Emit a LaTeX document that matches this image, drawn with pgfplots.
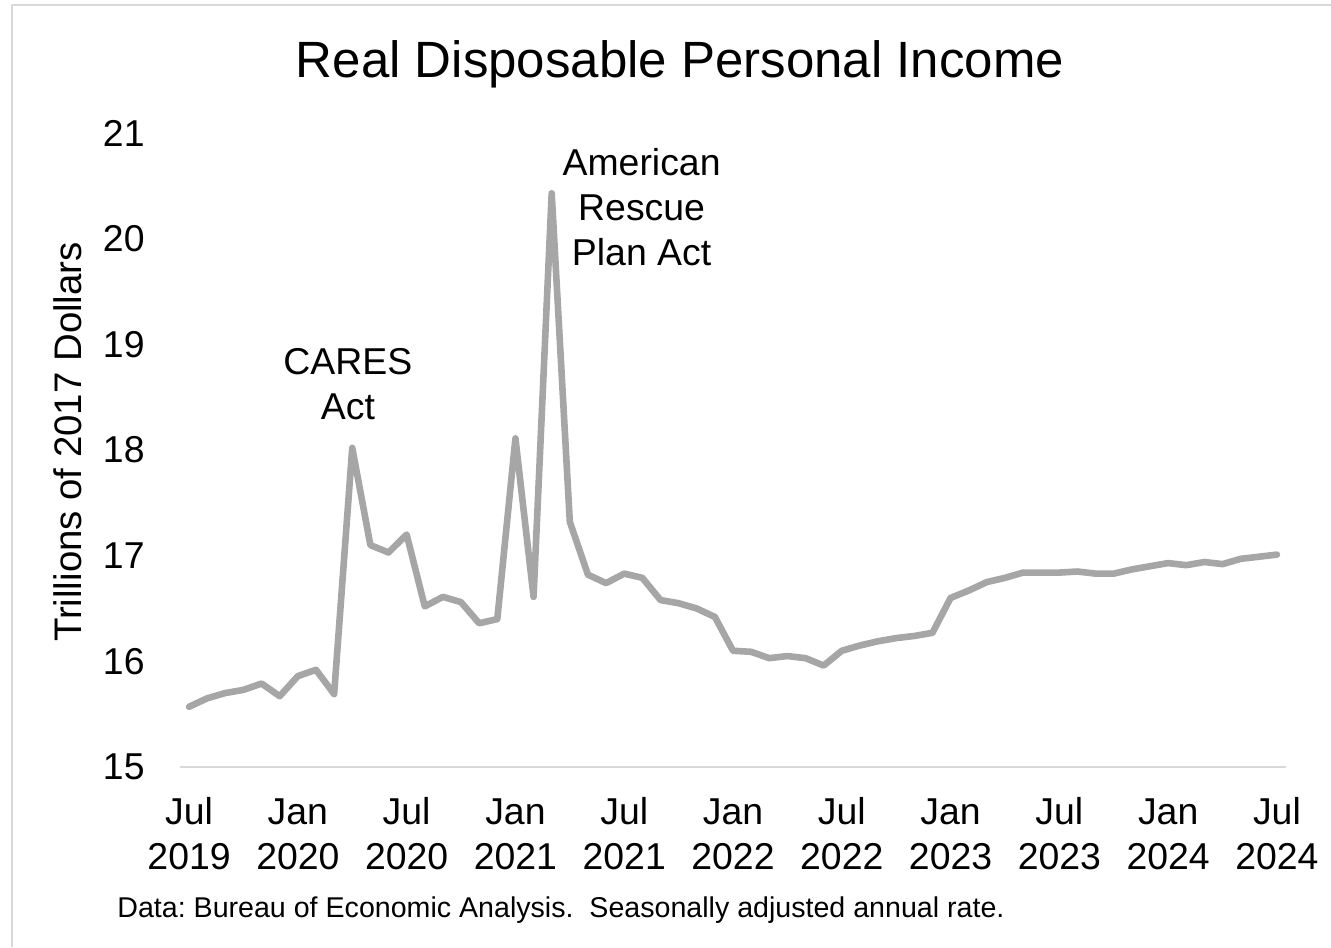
\documentclass[border=0pt]{standalone}
\usepackage{pgfplots}
\pgfplotsset{compat=1.18}
\usepackage{fontspec}
\setmainfont{Liberation Sans}
\frenchspacing
\definecolor{linegray}{RGB}{165,166,165}
\definecolor{framegray}{RGB}{217,217,217}
\begin{document}
\begin{tikzpicture}
\begin{axis}[
  at={(0,0)}, anchor=south west,
  scale only axis, width=553pt, height=317pt,
  xmin=-0.5, xmax=60.5, ymin=15, ymax=21,
  axis x line*=bottom, axis y line*=left,
  y axis line style={draw=none},
  x axis line style={draw=framegray, line width=1pt},
  xtick={0,6,...,60},
  xticklabels={\strut Jul\\2019,\strut Jan\\2020,\strut Jul\\2020,\strut Jan\\2021,\strut Jul\\2021,\strut Jan\\2022,\strut Jul\\2022,\strut Jan\\2023,\strut Jul\\2023,\strut Jan\\2024,\strut Jul\\2024},
  ytick={15,16,...,21},
  tick style={draw=none},
  /pgf/number format/assume math mode=true,
  xticklabel style={align=center, anchor=north, inner sep=0pt, yshift=-13pt, font=\fontsize{18.7}{22.5}\selectfont},
  yticklabel style={anchor=east, inner sep=0pt, xshift=-17.5pt, font=\fontsize{18.7}{22.5}\selectfont},
  clip=false,
]
\addplot[linegray, line width=3.3pt, line join=round, line cap=round] coordinates {
(0,15.57) (1,15.65) (2,15.70) (3,15.73) (4,15.79) (5,15.67) (6,15.86) (7,15.92) (8,15.69) (9,18.02)
(10,17.10) (11,17.03) (12,17.20) (13,16.52) (14,16.61) (15,16.56) (16,16.36) (17,16.40) (18,18.11) (19,16.61)
(20,20.43) (21,17.32) (22,16.82) (23,16.74) (24,16.83) (25,16.79) (26,16.58) (27,16.55) (28,16.50) (29,16.42)
(30,16.10) (31,16.09) (32,16.03) (33,16.05) (34,16.03) (35,15.96) (36,16.10) (37,16.15) (38,16.19) (39,16.22)
(40,16.24) (41,16.27) (42,16.60) (43,16.67) (44,16.75) (45,16.79) (46,16.84) (47,16.84) (48,16.84) (49,16.85)
(50,16.83) (51,16.83) (52,16.87) (53,16.90) (54,16.93) (55,16.91) (56,16.94) (57,16.92) (58,16.97) (59,16.99)
(60,17.01)
};
\node[align=center, font=\fontsize{18.7}{22.5}\selectfont] at (axis cs:8.76,18.62) {CARES\\Act};
\node[align=center, font=\fontsize{18.7}{22.5}\selectfont] at (axis cs:24.96,20.30) {American\\Rescue\\Plan Act};
\end{axis}
\node[font=\fontsize{25.5}{30}\selectfont] at (250pt,351.5pt) {Real Disposable Personal Income};
\node[rotate=90, font=\fontsize{19.2}{22.5}\selectfont] at (-56pt,162.5pt) {Trillions of 2017 Dollars};
\node[anchor=base west, inner sep=0pt, font=\fontsize{14.3}{17}\selectfont] at (-31.5pt,-75pt) {Data: Bureau of Economic Analysis.\ \ Seasonally adjusted annual rate.};
\draw[framegray, line width=1.25pt] (-84pt,-90pt) -- (-84pt,381pt) -- (575.5pt,381pt);
\pgfresetboundingbox
\useasboundingbox (-90pt,-90pt) rectangle (575.5pt,383.5pt);
\end{tikzpicture}
\end{document}
